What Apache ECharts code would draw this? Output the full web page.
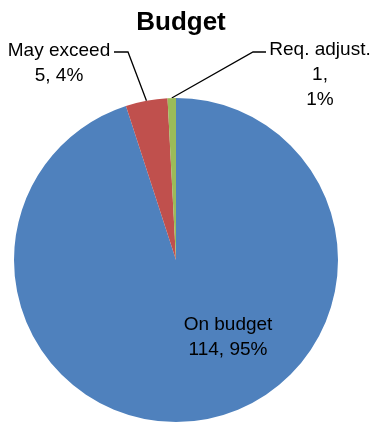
<!DOCTYPE html>
<html>
<head>
<meta charset="utf-8">
<script src="https://cdn.jsdelivr.net/npm/echarts/dist/echarts.min.js"></script>
<style>
  html, body { margin: 0; padding: 0; background: #fff; }
  #chart { width: 376px; height: 428px; }
</style>
</head>
<body>
<div id="chart"></div>
<script>
// Budget status of projects
const chartTitle = 'Budget';
const categories = ['On budget', 'May exceed', 'Req. adjust.'];
const counts = [114, 5, 1];
const sliceColors = ['#4F81BD', '#C0504D', '#9BBB59'];

// Label text templates per slice
const labelTemplates = ['{b}\n{c}, {d}%', '{b}\n{c}, {d}%', '{b}\n{c},\n{d}%'];

// Where each label sits and how its leader line bends
const labelSpots = [
  { x: 228, y: 337, line: null },
  { x: 59, y: 63, line: { bendX: 128, endX: 114, y: 52 } },
  { x: 320, y: 75, line: { bendX: 253, endX: 266, y: 52 } }
];

const chart = echarts.init(document.getElementById('chart'));

const seriesData = categories.map((name, i) => ({
  name: name,
  value: counts[i],
  itemStyle: { color: sliceColors[i] },
  label: {
    formatter: labelTemplates[i],
    position: i === 0 ? 'inside' : 'outside'
  },
  labelLine: { show: i !== 0 }
}));

chart.setOption({
  animation: false,
  title: {
    text: chartTitle,
    left: 176,
    textAlign: 'center',
    top: 5,
    textStyle: {
      fontFamily: 'Liberation Sans',
      fontWeight: 'bold',
      fontSize: 26,
      color: '#000'
    }
  },
  series: [{
    type: 'pie',
    center: [176, 260],
    radius: 162,
    startAngle: 90,
    clockwise: true,
    percentPrecision: 0,
    avoidLabelOverlap: false,
    emphasis: { disabled: true },
    itemStyle: { borderWidth: 0 },
    label: {
      color: '#000',
      fontFamily: 'Liberation Sans',
      fontSize: 19,
      lineHeight: 25,
      align: 'center'
    },
    labelLine: {
      lineStyle: { color: '#000', width: 1.3 }
    },
    labelLayout: function (p) {
      const spot = labelSpots[p.dataIndex];
      const out = { x: spot.x, y: spot.y, align: 'center', verticalAlign: 'middle' };
      if (spot.line && p.labelLinePoints) {
        const edge = p.labelLinePoints[0];
        out.labelLinePoints = [edge, [spot.line.bendX, spot.line.y], [spot.line.endX, spot.line.y]];
      }
      return out;
    },
    data: seriesData
  }]
});
</script>
</body>
</html>
